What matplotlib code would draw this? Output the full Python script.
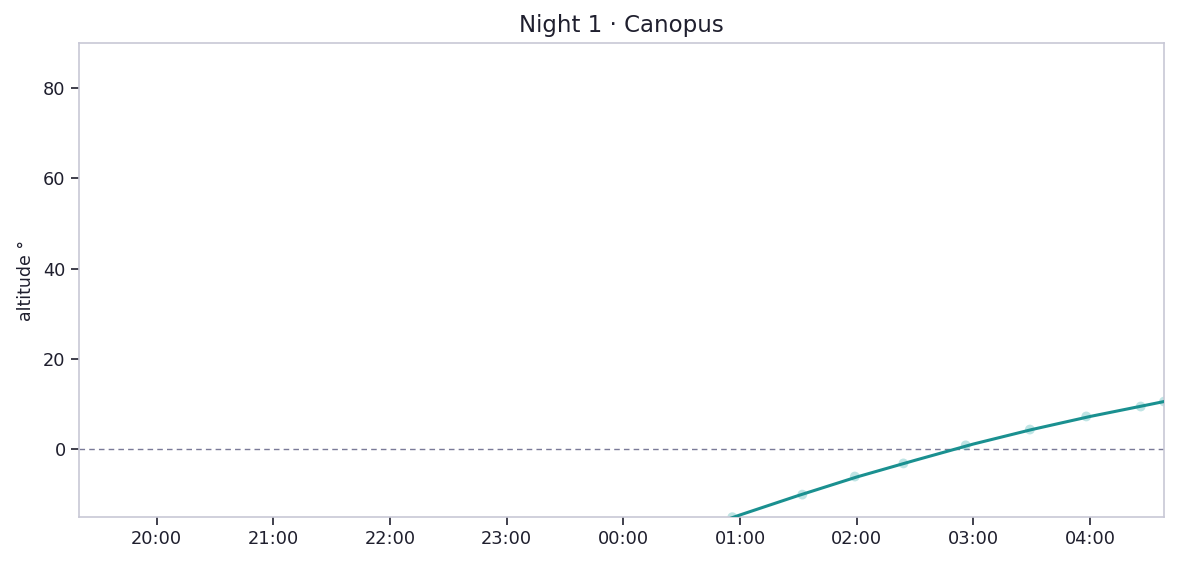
import matplotlib
matplotlib.use("Agg")
import matplotlib.pyplot as plt
import matplotlib.dates as mdates
import pandas as pd

# sampled altitudes (degrees) of Canopus, night 1
sample_times = ["00:56", "01:32", "01:59", "02:24", "02:56", "03:29", "03:58", "04:26", "04:38"]
sample_alt = [-15.0, -10.0, -6.0, -3.1, 0.9, 4.4, 7.3, 9.5, 10.6]

# model track
track_times = ["00:30", "01:00", "01:30", "02:00", "02:30", "03:00", "03:30", "04:00", "04:30", "04:38"]
track_alt = [-19.0, -14.5, -10.2, -6.1, -2.4, 1.2, 4.4, 7.3, 9.9, 10.6]

night_start = "19:20"
night_end = "04:38"


def to_dt(hhmm):
    # evening times on day 1, morning times on day 2
    h = int(hhmm.split(":")[0])
    day = "2024-01-01" if h >= 12 else "2024-01-02"
    return pd.Timestamp(day + " " + hhmm)


xs = [to_dt(t) for t in sample_times]
xt = [to_dt(t) for t in track_times]

text_col = "#1f1f2e"
spine_col = "#c8c8d6"
teal = "#1a9090"

fig, ax = plt.subplots(figsize=(11.77, 5.64), dpi=100)
fig.subplots_adjust(left=0.067, right=0.989, top=0.924, bottom=0.083)

ax.axhline(0, color="#7a7a98", lw=1.0, ls=(0, (4, 3)), zorder=1)
ax.plot(xt, track_alt, color=teal, lw=2.2, zorder=3)
ax.scatter(xs, sample_alt, s=50, color="#48b4b4", alpha=0.35, edgecolors="none", zorder=2)

ax.set_xlim(to_dt(night_start), to_dt(night_end))
ax.set_ylim(-15, 90)
ax.set_yticks([0, 20, 40, 60, 80])

ax.xaxis.set_major_locator(mdates.HourLocator())
ax.xaxis.set_major_formatter(mdates.DateFormatter("%H:%M"))

for s in ax.spines.values():
    s.set_color(spine_col)
    s.set_linewidth(1.2)

ax.tick_params(axis="both", colors=text_col, labelsize=12.8, length=6, width=1.2)
ax.set_ylabel("altitude °", color=text_col, fontsize=12.5, labelpad=6)
ax.set_title("Night 1 · Canopus", color=text_col, fontsize=16.5, pad=8)

fig.savefig("out.png", dpi=100)
